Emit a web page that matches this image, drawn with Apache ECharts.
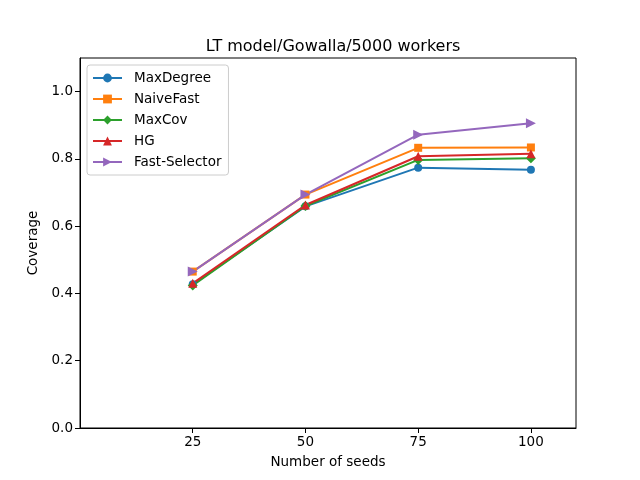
<!DOCTYPE html>
<html>
<head>
<meta charset="utf-8">
<script src="https://cdn.jsdelivr.net/npm/echarts@6/dist/echarts.min.js"></script>
<style>
  html, body { margin: 0; padding: 0; background: #fff; }
  #main { width: 640px; height: 480px; }
</style>
</head>
<body>
<div id="main"></div>
<script>
// data
var seeds = [25, 50, 75, 100];
var maxDegree = [0.427, 0.659, 0.774, 0.768];
var naiveFast = [0.465, 0.694, 0.833, 0.834];
var maxCov = [0.424, 0.660, 0.797, 0.802];
var hg = [0.430, 0.663, 0.808, 0.815];
var fastSelector = [0.465, 0.694, 0.872, 0.906];
var xTicks = [25, 50, 75, 100];
var yTicks = [0, 0.2, 0.4, 0.6, 0.8, 1.0];

var font = 'DejaVu Sans';
var myChart = echarts.init(document.getElementById('main'));

function pairs(vals) {
    var out = [];
    for (var i = 0; i < seeds.length; i++) {
        out.push([seeds[i], vals[i]]);
    }
    return out;
}

function makeSeries(name, vals, color, symbol, size, rotate) {
    return {
        name: name,
        type: 'line',
        data: pairs(vals),
        symbol: symbol,
        symbolSize: size,
        symbolRotate: rotate || 0,
        showAllSymbol: true,
        lineStyle: { color: color, width: 2 },
        itemStyle: { color: color },
        animation: false
    };
}

var option = {
    backgroundColor: '#fff',
    title: {
        text: 'LT model/Gowalla/5000 workers',
        left: 328,
        top: 34,
        textAlign: 'center',
        textStyle: { fontFamily: font, fontSize: 16, fontWeight: 'normal', color: '#000' }
    },
    grid: {
        left: 80,
        right: 64,
        top: 58,
        bottom: 52,
        show: true,
        borderColor: '#000',
        borderWidth: 1
    },
    legend: {
        orient: 'vertical',
        left: 87,
        top: 65,
        itemWidth: 29,
        itemHeight: 11,
        itemGap: 7,
        padding: [6, 7, 6, 5],
        backgroundColor: '#fff',
        borderColor: '#ccc',
        borderWidth: 1,
        borderRadius: 3,
        textStyle: { fontFamily: font, fontSize: 13.5, color: '#000', padding: [0, 0, 0, 7] },
        data: ['MaxDegree', 'NaiveFast', 'MaxCov', 'HG', 'Fast-Selector']
    },
    xAxis: {
        type: 'value',
        min: 0,
        max: 110,
        name: 'Number of seeds',
        nameLocation: 'middle',
        nameGap: 27,
        nameTextStyle: { fontFamily: font, fontSize: 13.5, color: '#000' },
        splitLine: { show: false },
        axisLine: { show: true, onZero: false, lineStyle: { color: '#000', width: 1 } },
        axisTick: { show: true, customValues: xTicks, length: 5, lineStyle: { color: '#000' } },
        axisLabel: {
            customValues: xTicks,
            fontFamily: font, fontSize: 13.5, color: '#000', margin: 7
        }
    },
    yAxis: {
        type: 'value',
        min: 0,
        max: 1.1,
        name: 'Coverage',
        nameLocation: 'middle',
        nameGap: 36,
        nameTextStyle: { fontFamily: font, fontSize: 13.5, color: '#000' },
        splitLine: { show: false },
        axisLine: { show: true, onZero: false, lineStyle: { color: '#000', width: 1 } },
        axisTick: { show: true, customValues: yTicks, length: 5, lineStyle: { color: '#000' } },
        axisLabel: {
            customValues: yTicks,
            formatter: function (v) { return v.toFixed(1); },
            fontFamily: font, fontSize: 13.5, color: '#000', margin: 7
        }
    },
    series: [
        makeSeries('MaxDegree', maxDegree, '#1f77b4', 'circle', 8),
        makeSeries('NaiveFast', naiveFast, '#ff7f0e', 'rect', 8),
        makeSeries('MaxCov', maxCov, '#2ca02c', 'diamond', 10),
        makeSeries('HG', hg, '#d62728', 'triangle', 9),
        makeSeries('Fast-Selector', fastSelector, '#9467bd', 'triangle', 10, -90)
    ]
};

myChart.setOption(option);
window.onresize = myChart.resize;
</script>
</body>
</html>
